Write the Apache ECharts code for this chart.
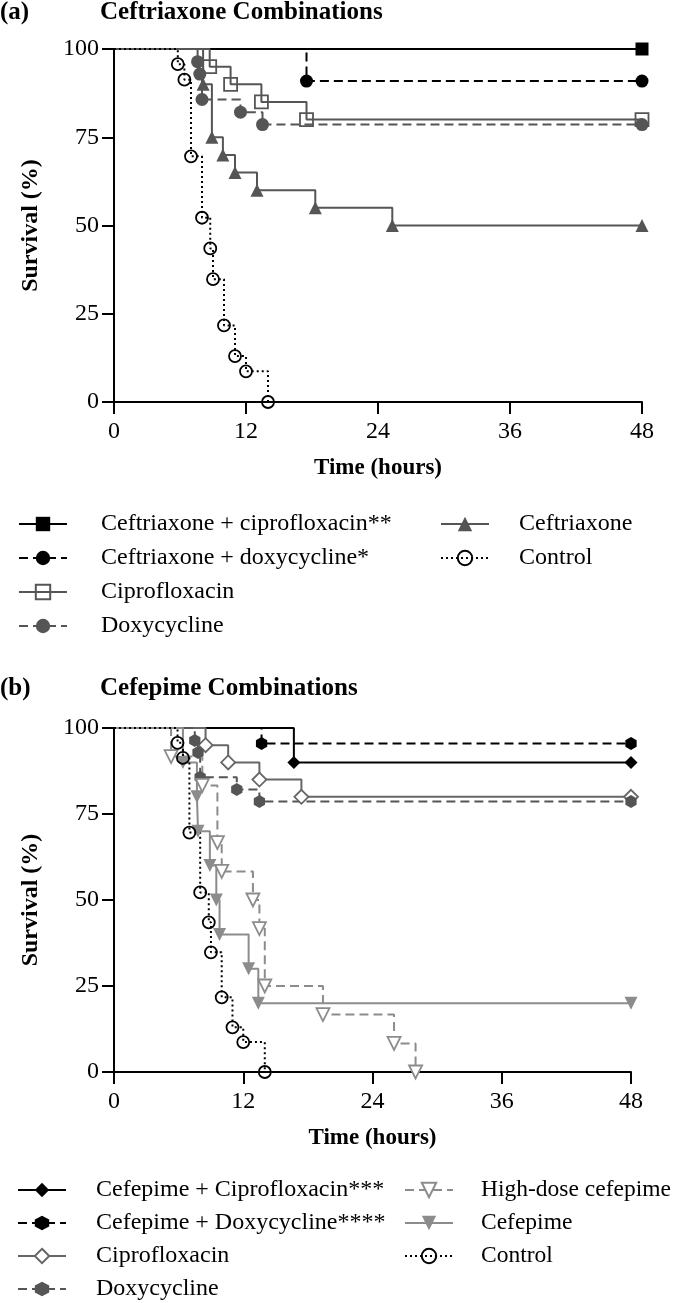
<!DOCTYPE html>
<html>
<head>
<meta charset="utf-8">
<script src="https://cdn.jsdelivr.net/npm/echarts@6/dist/echarts.min.js"></script>
<style>
  html, body { margin: 0; padding: 0; background: #fff; }
  #chartA { width: 680px; height: 640px; }
  #chartB { width: 680px; height: 663px; }
</style>
</head>
<body>
<div id="chartA"></div>
<div id="chartB"></div>
<script>
// ---- panel (a): ceftriaxone combinations ----
const ctxCipT = [0, 48];
const ctxCipS = [100, 100];
const ctxDoxT = [0, 17.5, 48];
const ctxDoxS = [100, 90.9, 90.9];
const cipAT = [0, 8.7, 10.6, 13.4, 17.5, 48];
const cipAS = [100, 95, 90, 85, 80, 80];
const doxAT = [0, 7.6, 7.8, 8.0, 11.5, 13.5, 48];
const doxAS = [100, 96.4, 92.9, 85.7, 82.1, 78.6, 78.6];
const ctxT = [0, 8.1, 8.9, 9.9, 11.0, 13.0, 18.3, 25.3, 48];
const ctxS = [100, 90, 75, 70, 65, 60, 55, 50, 50];
const ctlAT = [0, 5.8, 6.4, 7.0, 8.0, 8.75, 9.0, 10.0, 11.0, 12.0, 14.0];
const ctlAS = [100, 95.7, 91.3, 69.6, 52.2, 43.5, 34.8, 21.7, 13.0, 8.7, 0];

// ---- panel (b): cefepime combinations ----
const fepCipT = [0, 16.7, 48];
const fepCipS = [100, 90, 90];
const fepDoxT = [0, 13.7, 48];
const fepDoxS = [100, 95.5, 95.5];
const cipBT = [0, 8.5, 10.6, 13.5, 17.4, 48];
const cipBS = [100, 95, 90, 85, 80, 80];
const doxBT = [0, 7.5, 7.8, 8.0, 11.4, 13.5, 48];
const doxBS = [100, 96.4, 92.9, 85.7, 82.1, 78.6, 78.6];
const hdFepT = [0, 5.3, 8.2, 9.6, 10.0, 12.9, 13.5, 14.0, 19.4, 26.0, 28.0];
const hdFepS = [100, 91.7, 83.3, 66.7, 58.3, 50, 41.7, 25, 16.7, 8.3, 0];
const fepT = [0, 6.4, 7.7, 7.8, 8.9, 9.5, 9.8, 12.5, 13.4, 48];
const fepS = [100, 90, 80, 70, 60, 50, 40, 30, 20, 20];
const ctlBT = [0, 5.9, 6.4, 7.0, 8.0, 8.8, 9.0, 10.0, 11.0, 12.0, 14.0];
const ctlBS = [100, 95.7, 91.3, 69.6, 52.2, 43.5, 34.8, 21.7, 13.0, 8.7, 0];

const xTicks = [0, 12, 24, 36, 48];
const yTicks = [0, 25, 50, 75, 100];

const FONT = "'Liberation Serif', 'Times New Roman', serif";
const DARK = "#555555";
const MID = "#666666";
const LIGHT = "#8c8c8c";
const DASH = [9, 5];
const DOT = [2, 3];
const HEX = "path://M0,-1L0.866,-0.5L0.866,0.5L0,1L-0.866,0.5L-0.866,-0.5Z";
const CLEAR = "rgba(255,255,255,0)";

// zip times + survival; no marker on the starting point
function km(times, surv) {
    return times.map((t, i) => (i === 0 ? { value: [t, surv[i]], symbol: "none" } : [t, surv[i]]));
}

function kmSeries(name, data, o) {
    const open = o.fill !== o.color;
    return {
        name: name,
        type: "line",
        step: "end",
        data: data,
        symbol: o.symbol,
        symbolSize: o.size || 12,
        symbolRotate: o.rotate || 0,
        symbolKeepAspect: true,
        lineStyle: { color: o.color, width: 2, type: o.dash || "solid" },
        itemStyle: { color: o.fill, borderColor: o.color, borderWidth: open ? 1.8 : 0 },
        emphasis: { disabled: true },
        animation: false,
    };
}

function axisStyle(nameSize, labelMargin) {
    return {
        axisLine: { show: true, lineStyle: { color: "#000", width: 2 } },
        axisTick: { show: true, length: 12, lineStyle: { color: "#000", width: 2 } },
        axisLabel: { fontFamily: FONT, fontSize: 24, color: "#000", margin: labelMargin },
        splitLine: { show: false },
        nameTextStyle: { fontFamily: FONT, fontSize: nameSize, fontWeight: "bold", color: "#000" },
    };
}

function buildAxes() {
    return {
        xAxis: {
            type: "value",
            min: xTicks[0],
            max: xTicks[xTicks.length - 1],
            interval: xTicks[1] - xTicks[0],
            name: "Time (hours)",
            nameLocation: "middle",
            nameGap: 55,
            ...axisStyle(23, 18),
        },
        yAxis: {
            type: "value",
            min: yTicks[0],
            max: yTicks[yTicks.length - 1],
            interval: yTicks[1] - yTicks[0],
            name: "Survival (%)",
            nameLocation: "middle",
            nameGap: 71,
            ...axisStyle(24, 15),
        },
    };
}

function titleItems(tag, text, top) {
    const ts = { fontFamily: FONT, fontSize: 25, fontWeight: "bold", color: "#000" };
    return [
        { text: tag, left: 0, top: top, padding: 0, textStyle: ts },
        { text: text, left: 100, top: top, padding: 0, textStyle: ts },
    ];
}

function legendItem(names, left, top, pad, gap, size) {
    return {
        orient: "vertical",
        left: left,
        top: top,
        padding: 0,
        itemWidth: 48,
        itemHeight: 18,
        itemGap: gap,
        selectedMode: false,
        textStyle: { fontFamily: FONT, fontSize: size || 24, color: "#000", lineHeight: 24, padding: [0, 0, 0, pad] },
        data: names,
    };
}

// ---- chart A ----
const chartA = echarts.init(document.getElementById("chartA"), null, { renderer: "canvas" });
chartA.setOption({
    backgroundColor: "#fff",
    title: titleItems("(a)", "Ceftriaxone Combinations", 0),
    legend: [
        legendItem(["Ceftriaxone + ciprofloxacin**", "Ceftriaxone + doxycycline*", "Ciprofloxacin", "Doxycycline"], 18, 512, 29, 10),
        legendItem(["Ceftriaxone", "Control"], 440, 512, 25, 10),
    ],
    grid: { left: 114, right: 38, top: 49, bottom: 238 },
    ...buildAxes(),
    series: [
        kmSeries("Ceftriaxone + ciprofloxacin**", km(ctxCipT, ctxCipS), { symbol: "rect", color: "#000", fill: "#000", size: 13 }),
        kmSeries("Ceftriaxone + doxycycline*", km(ctxDoxT, ctxDoxS), { symbol: "circle", color: "#000", fill: "#000", dash: DASH, size: 13 }),
        kmSeries("Ciprofloxacin", km(cipAT, cipAS), { symbol: "rect", color: DARK, fill: CLEAR, size: 13 }),
        kmSeries("Doxycycline", km(doxAT, doxAS), { symbol: "circle", color: DARK, fill: DARK, dash: DASH, size: 13 }),
        kmSeries("Ceftriaxone", km(ctxT, ctxS), { symbol: "triangle", color: DARK, fill: DARK, size: 13 }),
        kmSeries("Control", km(ctlAT, ctlAS), { symbol: "circle", color: "#000", fill: CLEAR, dash: DOT, size: 12 }),
    ],
});

// ---- chart B ----
const chartB = echarts.init(document.getElementById("chartB"), null, { renderer: "canvas" });
chartB.setOption({
    backgroundColor: "#fff",
    title: titleItems("(b)", "Cefepime Combinations", 36),
    legend: [
        legendItem(["Cefepime + Ciprofloxacin***", "Cefepime + Doxycycline****", "Ciprofloxacin", "Doxycycline"], 17, 538, 25, 9),
        legendItem(["High-dose cefepime", "Cefepime", "Control"], 404, 538, 23, 9, 23.5),
    ],
    grid: { left: 114, right: 49, top: 88, bottom: 231 },
    ...buildAxes(),
    series: [
        kmSeries("Cefepime + Ciprofloxacin***", km(fepCipT, fepCipS), { symbol: "diamond", color: "#000", fill: "#000", size: 13 }),
        kmSeries("Cefepime + Doxycycline****", km(fepDoxT, fepDoxS), { symbol: HEX, color: "#000", fill: "#000", dash: DASH, size: 13 }),
        kmSeries("Ciprofloxacin", km(cipBT, cipBS), { symbol: "diamond", color: MID, fill: "#fff", size: 14 }),
        kmSeries("Doxycycline", km(doxBT, doxBS), { symbol: HEX, color: DARK, fill: DARK, dash: DASH, size: 13 }),
        kmSeries("High-dose cefepime", km(hdFepT, hdFepS), { symbol: "triangle", rotate: 180, color: LIGHT, fill: "#fff", dash: DASH, size: 13 }),
        kmSeries("Cefepime", km(fepT, fepS), { symbol: "triangle", rotate: 180, color: LIGHT, fill: LIGHT, size: 13 }),
        kmSeries("Control", km(ctlBT, ctlBS), { symbol: "circle", color: "#000", fill: CLEAR, dash: DOT, size: 12 }),
    ],
});
</script>
</body>
</html>
